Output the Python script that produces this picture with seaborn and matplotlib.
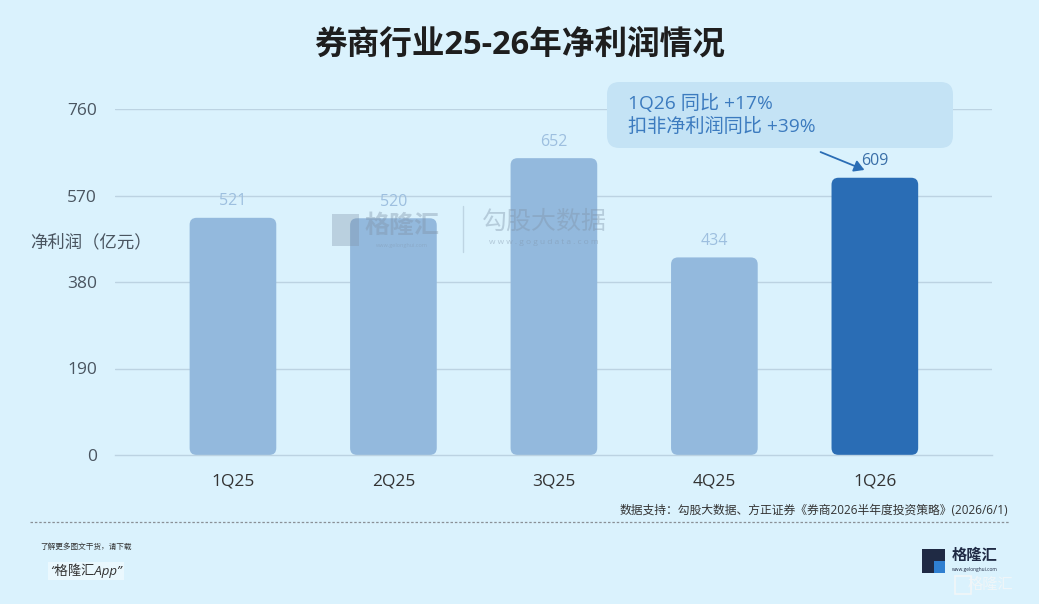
import matplotlib
matplotlib.use("Agg")
import matplotlib.pyplot as plt
import seaborn as sns
import pandas as pd
from matplotlib.patches import FancyBboxPatch, Rectangle, FancyArrowPatch
from matplotlib.lines import Line2D

quarters = ["1Q25", "2Q25", "3Q25", "4Q25", "1Q26"]
profits = [521, 520, 652, 434, 609]
yticks = [0, 190, 380, 570, 760]
title = "券商行业25-26年净利润情况"
ylabel = "净利润（亿元）"
note_lines = ["1Q26 同比 +17%", "扣非净利润同比 +39%"]
source = "数据支持：勾股大数据、方正证券《券商2026半年度投资策略》(2026/6/1)"

sns.set_theme(style="white")
plt.rcParams['font.family'] = ['Open Sans', 'Noto Sans CJK SC', 'DejaVu Sans']

BG = "#DAF2FD"
W, H = 1039, 604
fig = plt.figure(figsize=(W / 100, H / 100), dpi=100, facecolor=BG)

def fx(px):
    return px / W

def fy(py):
    return 1 - py / H

ax = fig.add_axes([fx(115), fy(455), fx(992) - fx(115), fy(109) - fy(455)])
ax.set_facecolor(BG)

df = pd.DataFrame({"q": quarters, "v": profits})
colors = ["#93B9DD"] * 4 + ["#2A6DB5"]
sns.barplot(data=df, x="q", y="v", hue="q", palette=colors, legend=False,
            width=0.54, ax=ax, saturation=1)

ax.set_ylim(0, 760)
ax.set_xlim(-0.735, 4.73)
ax.set_yticks(yticks)
ax.set_yticklabels([str(t) for t in yticks])
ax.tick_params(axis="y", length=0, pad=13, labelsize=12.5, labelcolor="#4A5560")
ax.tick_params(axis="x", length=0, pad=13, labelsize=12.5, labelcolor="#333333")
ax.set_xlabel("")
ax.set_ylabel("")
for s in ["top", "right", "left"]:
    ax.spines[s].set_visible(False)
ax.spines["bottom"].set_color("#BCD3E2")
ax.spines["bottom"].set_linewidth(1)
for t in yticks[1:]:
    ax.axhline(t, color="#BCD3E2", lw=1, zorder=0)

# rounded bars
fig.canvas.draw()
bbox = ax.get_window_extent()
px_per_x = bbox.width / (ax.get_xlim()[1] - ax.get_xlim()[0])
px_per_y = bbox.height / (ax.get_ylim()[1] - ax.get_ylim()[0])
aspect = px_per_x / px_per_y
rad = 7 / px_per_x
patches = list(ax.patches)
for p in patches:
    x0, y0, w, h = p.get_x(), p.get_y(), p.get_width(), p.get_height()
    fc = p.get_facecolor()
    p.remove()
    ax.add_patch(FancyBboxPatch((x0, y0), w, h,
                                boxstyle=f"round,pad=0,rounding_size={rad}",
                                mutation_aspect=aspect, fc=fc, ec="none", zorder=2))

for i, v in enumerate(profits):
    c = "#9DBFDF" if i < 4 else "#3A6FA8"
    ax.annotate(str(v), (i, v), xytext=(0, 12), textcoords="offset points",
                ha="center", va="center", fontsize=11.5, color=c)

# title
fig.text(fx(520), fy(45), title, ha="center", va="center", fontsize=23.5,
         fontweight="bold", color="#1E1E1E")
fig.text(fx(30), fy(243), ylabel, ha="left", va="center", fontsize=12.5, color="#4A5560")

# annotation box
fig.patches.append(FancyBboxPatch((fx(607), fy(148)), fx(953) - fx(607), fy(82) - fy(148),
                                  boxstyle="round,pad=0,rounding_size=0.012",
                                  transform=fig.transFigure, fc="#C4E3F5", ec="none",
                                  mutation_aspect=W / H, zorder=5))
fig.text(fx(628), fy(103), note_lines[0], ha="left", va="center", fontsize=13.8, color="#3C7BBF", zorder=6)
fig.text(fx(628), fy(127), note_lines[1], ha="left", va="center", fontsize=13.8, color="#3C7BBF", zorder=6)
fig.patches.append(FancyArrowPatch((fx(818), fy(151)), (fx(867), fy(171)),
                                   transform=fig.transFigure, arrowstyle="-|>,head_length=6,head_width=3.5",
                                   color="#2A6DB5", lw=1.3, zorder=6))

# watermark
wm = "#7F93A8"
fig.patches.append(Rectangle((fx(332), fy(246)), fx(27) - fx(0), fy(214) - fy(246),
                             transform=fig.transFigure, fc=wm, ec="none", alpha=0.35, zorder=7))
fig.text(fx(402), fy(226), "格隆汇", ha="center", va="center", fontsize=18, fontweight="bold",
         color=wm, alpha=0.4, zorder=7)
fig.text(fx(402), fy(245), "www.gelonghui.com", ha="center", va="center", fontsize=4,
         color=wm, alpha=0.4, zorder=7)
fig.lines.append(Line2D([fx(463), fx(463)], [fy(206), fy(252)], transform=fig.transFigure,
                        color=wm, alpha=0.3, lw=1, zorder=7))
fig.text(fx(544), fy(222), "勾股大数据", ha="center", va="center", fontsize=18,
         color=wm, alpha=0.4, zorder=7)
fig.text(fx(544), fy(243), "w w w . g o g u d a t a . c o m", ha="center", va="center", fontsize=6,
         color=wm, alpha=0.45, zorder=7)

# footer
fig.text(fx(1008), fy(510), source, ha="right", va="center", fontsize=8.5, color="#333333")
fig.lines.append(Line2D([fx(30), fx(1010)], [fy(522), fy(522)], transform=fig.transFigure,
                        color="#8A9096", lw=0.9, ls=(0, (2, 1.5))))
fig.text(fx(40), fy(547), "了解更多图文干货，请下载", ha="left", va="center", fontsize=5.5,
         color="#333333", style="italic")
fig.text(fx(50), fy(571), "“格隆汇App”", ha="left", va="center", fontsize=9.5,
         color="#333333", style="italic",
         bbox=dict(boxstyle="square,pad=0.15", fc="#EAF8FE", ec="none"))

# logo
fig.patches.append(Rectangle((fx(922), fy(573)), fx(23) - fx(0), fy(549) - fy(573),
                             transform=fig.transFigure, fc="#1F2A44", ec="none"))
fig.patches.append(Rectangle((fx(934), fy(573)), fx(11) - fx(0), fy(561) - fy(573),
                             transform=fig.transFigure, fc="#2F7FD0", ec="none"))
fig.text(fx(975), fy(556), "格隆汇", ha="center", va="center", fontsize=11, fontweight="bold",
         color="#1F2A44")
fig.text(fx(975), fy(569), "www.gelonghui.com", ha="center", va="center", fontsize=3.5,
         color="#1F2A44")
fig.text(fx(990), fy(585), "格隆汇", ha="center", va="center", fontsize=11,
         color="#F2F6F8", alpha=0.9)
fig.patches.append(Rectangle((fx(955), fy(594)), fx(16) - fx(0), fy(576) - fy(594),
                             transform=fig.transFigure, fc="none", ec="#F2F6F8", lw=1.2))

fig.savefig("out.png", dpi=100, facecolor=BG)
